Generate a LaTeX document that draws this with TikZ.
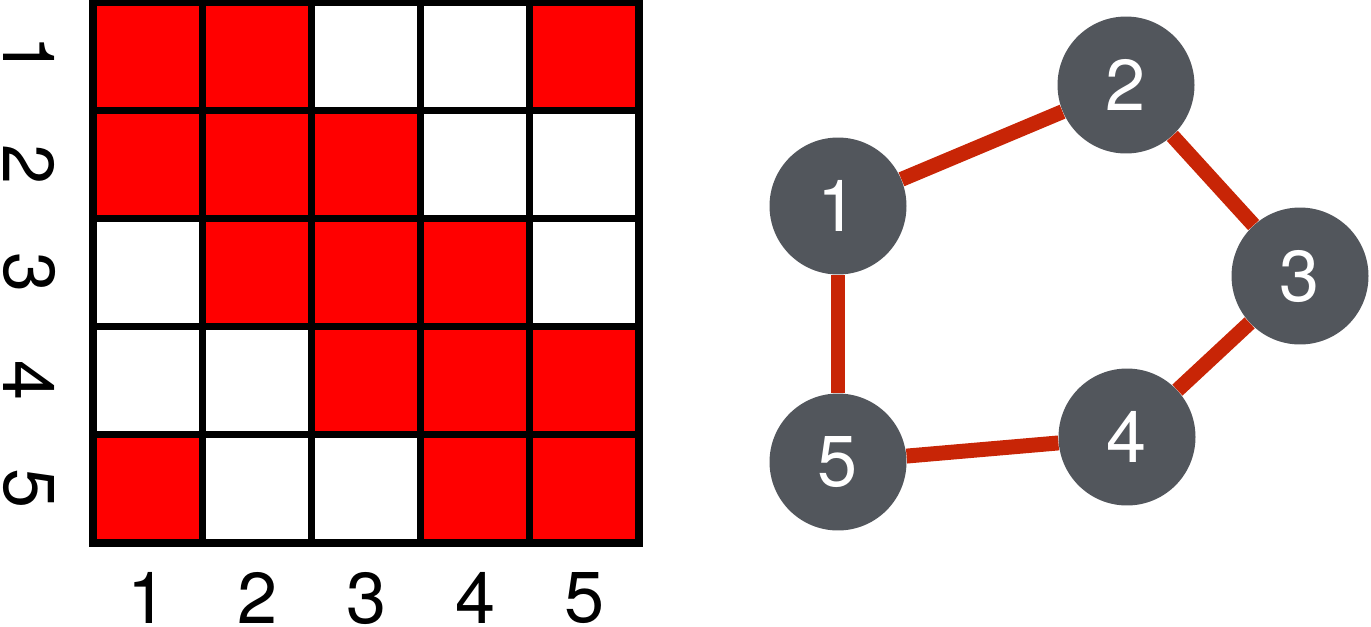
\documentclass[tikz,border=0pt]{standalone}
\usepackage{fontspec}
\setmainfont{TeX Gyre Heros}
\usetikzlibrary{positioning}
\definecolor{cellred}{RGB}{255,0,0}
\definecolor{vertexgray}{RGB}{82,86,92}
\definecolor{linkred}{RGB}{200,37,6}
\tikzset{
  vertex/.style={circle,fill=vertexgray,text=white,minimum size=2.74cm,inner sep=0pt,
    font=\fontsize{41}{41}\selectfont},
  link/.style={draw=linkred,line width=8.5pt},
  gridline/.style={line width=4pt,black},
  idx/.style={inner sep=0pt,font=\fontsize{41}{41}\selectfont}
}

\begin{document}
\begin{tikzpicture}[x=0.02cm,y=-0.02cm]
\useasboundingbox (0,0) rectangle (1371,626);
% adjacency matrix
\foreach \c/\r in {1/1,2/1,5/1, 1/2,2/2,3/2, 2/3,3/3,4/3, 3/4,4/4,5/4, 1/5,4/5,5/5}
  \fill[cellred] ({93+(\c-1)*109.2},{2+(\r-1)*108.2}) rectangle +(109.2,108.2);
\foreach \i in {1,...,4} {
  \draw[gridline] ({93+\i*109.2},2) -- ({93+\i*109.2},543);
  \draw[gridline] (93,{2+\i*108.2}) -- (639,{2+\i*108.2});
}
\draw[gridline] (93,2) rectangle (639,543);
%
\foreach \i in {1,...,5} {
  \node (r\i) [idx,rotate=-90] at (29,{56+(\i-1)*108.2}) {\i};
  \node (c\i) [idx] at ({148+(\i-1)*109.2},598) {\i};
}
% graph
\node (n1) [vertex] at (838,206) {1};
\node (n2) [vertex] at (1126,85) {2};
\node (n3) [vertex] at (1300,276) {3};
\node (n4) [vertex] at (1127,437) {4};
\node (n5) [vertex] at (838,462) {5};
%
\path[link] (n1) edge (n2);
\path[link] (n2) edge (n3);
\path[link] (n3) edge (n4);
\path[link] (n4) edge (n5);
\path[link] (n5) edge (n1);
\end{tikzpicture}
\end{document}
